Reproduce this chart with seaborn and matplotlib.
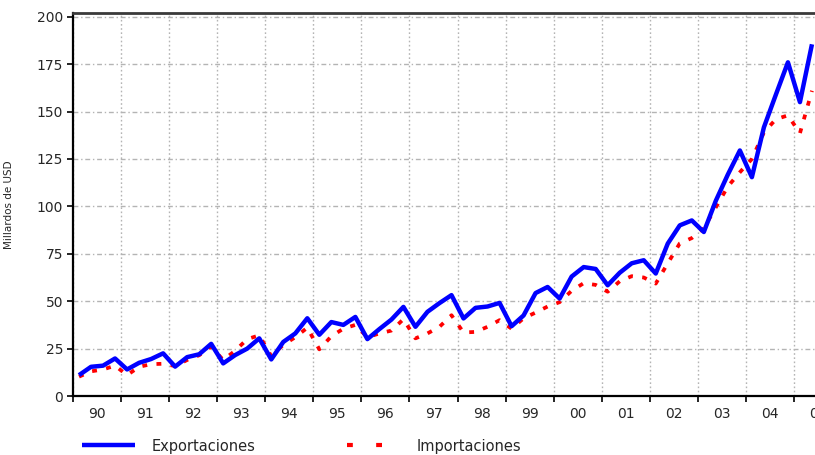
import numpy as np
import pandas as pd
import matplotlib
matplotlib.use("Agg")
import matplotlib.pyplot as plt
import seaborn as sns
from matplotlib.lines import Line2D
from matplotlib.ticker import FixedLocator, FixedFormatter, NullFormatter

# ---------------- data (quarterly, 1990Q1 - 2005Q2, miles de millones USD) ----------------
year_labels = ["90", "91", "92", "93", "94", "95", "96", "97",
               "98", "99", "00", "01", "02", "03", "04", "05"]
first_year = 1990
n_quarters = 62

exportaciones = [
    11.0, 15.4, 16.0, 19.8,     # 1990
    14.0, 17.5, 19.5, 22.5,     # 1991
    15.5, 20.5, 22.0, 27.5,     # 1992
    17.2, 21.6, 25.0, 30.4,     # 1993
    19.3, 28.5, 33.0, 41.0,     # 1994
    32.3, 39.0, 37.5, 41.7,     # 1995
    30.0, 35.3, 40.3, 47.0,     # 1996
    36.5, 44.4, 49.0, 53.2,     # 1997
    40.9, 46.5, 47.2, 49.1,     # 1998
    36.8, 42.5, 54.3, 57.5,     # 1999
    51.4, 63.0, 68.0, 67.0,     # 2000
    58.4, 65.0, 70.0, 71.6,     # 2001
    64.6, 80.4, 90.0, 92.6,     # 2002
    86.5, 103.0, 116.8, 129.5,  # 2003
    115.4, 141.7, 159.0, 176.0, # 2004
    155.0, 185.5,               # 2005
]

importaciones = [
    10.2, 13.0, 14.0, 16.0,     # 1990
    11.0, 15.4, 16.8, 17.0,     # 1991
    15.8, 19.0, 21.5, 26.0,     # 1992
    19.0, 23.9, 30.0, 32.0,     # 1993
    21.0, 27.0, 31.0, 36.0,     # 1994
    24.6, 31.5, 35.5, 37.5,     # 1995
    31.0, 33.0, 34.5, 40.5,     # 1996
    30.4, 33.0, 36.5, 42.6,     # 1997
    33.5, 33.8, 36.5, 40.0,     # 1998
    35.5, 41.0, 44.0, 47.2,     # 1999
    49.5, 55.5, 59.5, 58.6,     # 2000
    55.0, 60.5, 63.2, 62.5,     # 2001
    59.3, 70.0, 80.5, 83.3,     # 2002
    88.5, 99.5, 110.5, 118.0,   # 2003
    125.0, 139.0, 146.0, 148.0, # 2004
    138.6, 161.0,               # 2005
]

y_ticks = [0, 25, 50, 75, 100, 125, 150, 175, 200]
ylabel = "Millardos de USD"
legend_labels = ["Exportaciones", "Importaciones"]

# ---------------- frame ----------------
year = np.repeat(np.arange(first_year, first_year + len(year_labels)), 4)[:n_quarters]
quarter = np.tile([1, 2, 3, 4], len(year_labels))[:n_quarters]
df = pd.DataFrame({
    "t": year + (quarter - 0.5) / 4.0,
    "exp": exportaciones,
    "imp": importaciones,
})

sns.set_style("white")
plt.rcParams["font.family"] = ["DejaVu Sans"]

fig = plt.figure(figsize=(8.15, 4.55), dpi=100)
W, H = 815.0, 455.0
ax = fig.add_axes([73 / W, 59 / H, 769 / W, 383 / H])

sns.lineplot(data=df, x="t", y="imp", ax=ax, color="#ff0000", linewidth=2.7,
             linestyle=(0, (1.3, 2.5)), zorder=3)
sns.lineplot(data=df, x="t", y="exp", ax=ax, color="#0000ff", linewidth=3.2,
             zorder=4, solid_capstyle="butt")

ax.set_xlim(first_year, first_year + len(year_labels))
ax.set_ylim(0, 202)
ax.set_xlabel("")
ax.set_ylabel(ylabel, fontsize=7.5)
ax.yaxis.set_label_coords(-0.077, 0.50)

# x axis: ticks at year boundaries, labels centred in each year
ax.xaxis.set_major_locator(FixedLocator(np.arange(first_year, first_year + len(year_labels))))
ax.xaxis.set_major_formatter(NullFormatter())
ax.xaxis.set_minor_locator(FixedLocator(np.arange(first_year, first_year + len(year_labels)) + 0.5))
ax.xaxis.set_minor_formatter(FixedFormatter(year_labels))
ax.tick_params(axis="x", which="major", length=4, width=1.2, direction="out",
               color="black", bottom=True)
ax.tick_params(axis="x", which="minor", length=0, pad=8, labelsize=10,
               bottom=True)

ax.set_yticks(y_ticks)
ax.tick_params(axis="y", which="major", length=4, width=1.2, direction="out",
               color="black", left=True, pad=3, labelsize=10)

# grid
ax.grid(False)
ax.xaxis.grid(True, which="major", color="#b4b4b4", linestyle=(0, (1.2, 1.8)), linewidth=1.0)
ax.yaxis.grid(True, which="major", color="#b4b4b4", linestyle=(0, (3.5, 2, 1, 2)), linewidth=1.0)
ax.set_axisbelow(True)

for side in ["left", "bottom"]:
    ax.spines[side].set_color("black")
    ax.spines[side].set_linewidth(1.6)
ax.spines["top"].set_visible(True)
ax.spines["top"].set_color("#3a3a3a")
ax.spines["top"].set_linewidth(2.0)
ax.spines["right"].set_visible(False)

# legends (two separate entries along the bottom)
h_exp = Line2D([], [], color="#0000ff", linewidth=3.2, solid_capstyle="butt")
h_imp = Line2D([], [], color="#ff0000", linewidth=3.0, linestyle=(0, (1.4, 5.6)))
common = dict(loc="center left", frameon=False, borderpad=0, borderaxespad=0,
              fontsize=10.5, handlelength=3.63, handletextpad=1.17)
fig.legend([h_exp], [legend_labels[0]], bbox_to_anchor=(82 / W, 9 / H), **common)
fig.legend([h_imp], [legend_labels[1]], bbox_to_anchor=(347 / W, 9 / H), **common)

fig.savefig("out.png", dpi=100, facecolor="white")
